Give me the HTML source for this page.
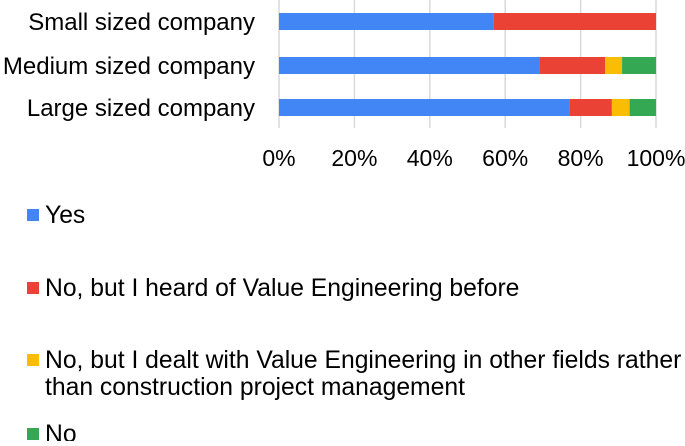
<!DOCTYPE html>
<html><head><meta charset="utf-8"><style>
body{margin:0;background:#fff;width:685px;height:441px;overflow:hidden;font-family:"Liberation Sans",Arial,sans-serif}
svg text{font-family:"Liberation Sans",Arial,sans-serif;fill:#000}
</style></head><body>
<svg id="chart" width="685" height="441" viewBox="0 0 685 441"></svg>
<script>
const categories=["Small sized company","Medium sized company","Large sized company"];
const yesVals=[57,69,77];
const heardVals=[43,17.5,11.3];
const dealtVals=[0,4.5,4.7];
const noVals=[0,9,7];
const tickLabels=["0%","20%","40%","60%","80%","100%"];
const tickVals=[0,20,40,60,80,100];
const seriesNames=["Yes","No, but I heard of Value Engineering before","No, but I dealt with Value Engineering in other fields rather|than construction project management","No"];
const colors=["#4285f4","#ea4335","#fbbc04","#34a853"];
const svg=document.getElementById('chart');
const NS="http://www.w3.org/2000/svg";
const x0=279,x1=656;
const xs=v=>x0+(x1-x0)*v/100;
const bandTop=[13,57,99],barH=17;
const ys=i=>bandTop[i];
function mk(t,a){const e=document.createElementNS(NS,t);for(const k in a)e.setAttribute(k,a[k]);svg.appendChild(e);return e;}
tickVals.forEach((v,i)=>{
 const g=mk('line',{x1:xs(v),x2:xs(v),y1:0,y2:128,stroke:'#d9d9d9','stroke-width':1.5});
 
 
 const t=mk('text',{x:xs(v),y:166,'text-anchor':'middle','font-size':23});
 t.textContent=tickLabels[i];
 
 
});
const series=[yesVals,heardVals,dealtVals,noVals];
categories.forEach((c,i)=>{
 const t=mk('text',{x:255,y:ys(i)+17,'text-anchor':'end','font-size':24});
 t.textContent=c;
 
 
 let acc=0;
 series.forEach((s,j)=>{
  const v=s[i]; if(v<=0)return;
  const r=mk('rect',{x:xs(acc),y:ys(i),width:xs(acc+v)-xs(acc),height:barH,fill:colors[j]});
  
  
  acc+=v;
 });
});
const legY=[209,282,354,428];
seriesNames.forEach((n,j)=>{
 const r=mk('rect',{x:27,y:legY[j],width:12,height:12,fill:colors[j]});
 
 
 n.split('|').forEach((ln,k)=>{
  const t=mk('text',{x:45,y:legY[j]+14+k*27,'font-size':24.7});
  t.textContent=ln;
  
  
 });
});
</script>
</body></html>
